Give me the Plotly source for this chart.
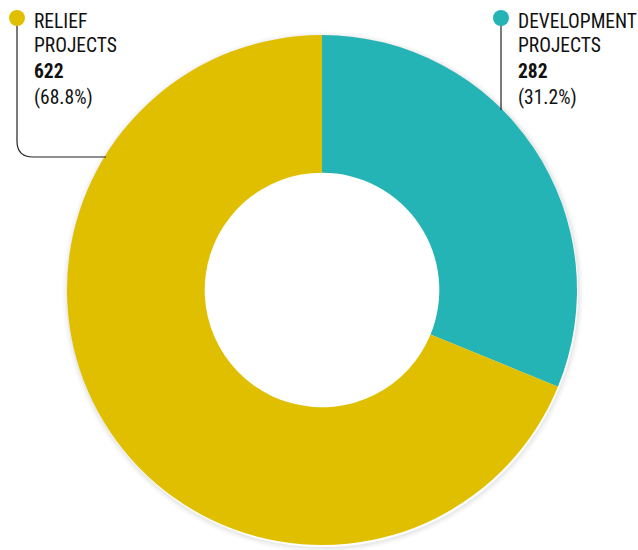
import plotly.graph_objects as go

labels = ["DEVELOPMENT PROJECTS", "RELIEF PROJECTS"]
label_lines = [["DEVELOPMENT", "PROJECTS"], ["RELIEF", "PROJECTS"]]
values = [282, 622]
percents = ["31.2%", "68.8%"]
colors = ["#24B4B6", "#E0BF00"]

W, H = 638, 550
cx, cy, R = 322, 290, 255


def px(x):
    return x / W


def py(y):
    return 1 - y / H


fig = go.Figure()
fig.add_trace(go.Pie(
    labels=labels, values=values, marker=dict(colors=colors, line=dict(width=0)),
    hole=0.46, sort=False, direction="clockwise", rotation=0,
    textinfo="none", hoverinfo="label+value+percent", showlegend=False,
    domain=dict(x=[px(cx - R), px(cx + R)], y=[py(cy + R), py(cy - R)]),
))

shapes = []
# soft shadow rings around the donut
for i, a in enumerate([0.08, 0.045, 0.02]):
    r = R + 1 + 1.8 * i
    shapes.append(dict(type="circle", xref="paper", yref="paper", layer="below",
                       x0=px(cx + 1 - r), x1=px(cx + 1 + r), y0=py(cy + 2 + r), y1=py(cy + 2 - r),
                       fillcolor="rgba(0,0,0,0)", line=dict(width=2, color=f"rgba(0,0,0,{a})")))

# connector lines
shapes.append(dict(type="path", xref="paper", yref="paper",
                   path=f"M {px(17)},{py(18)} L {px(17)},{py(141)} Q {px(17)},{py(157)} {px(33)},{py(157)} L {px(106)},{py(157)}",
                   line=dict(color="#222222", width=1.2)))
shapes.append(dict(type="line", xref="paper", yref="paper",
                   x0=px(501), x1=px(501), y0=py(18), y1=py(110),
                   line=dict(color="#222222", width=1.2)))
# markers
for (mx, col) in [(17, colors[1]), (501, colors[0])]:
    r = 8
    shapes.append(dict(type="circle", xref="paper", yref="paper",
                       x0=px(mx - r), x1=px(mx + r), y0=py(18 + r), y1=py(18 - r),
                       fillcolor=col, line=dict(width=0)))

fam = "Roboto Condensed, Liberation Sans Narrow, Arial Narrow, sans-serif"
annotations = []
rows = [21, 46, 72, 97]
for idx, x0 in [(1, 32), (0, 516)]:
    lines = label_lines[idx] + [f"<b>{values[idx]}</b>", f"({percents[idx]})"]
    for ln, yy in zip(lines, rows):
        annotations.append(dict(x=px(x0), y=py(yy), xref="paper", yref="paper",
                                xanchor="left", yanchor="middle", align="left",
                                showarrow=False, text=ln,
                                font=dict(family=fam, size=19.5, color="#111111")))

fig.update_layout(width=W, height=H, margin=dict(l=0, r=0, t=0, b=0),
                  paper_bgcolor="white", plot_bgcolor="white",
                  shapes=shapes, annotations=annotations)
fig.write_html("out.html", config={"displayModeBar": False})

with open("out.html", "r", encoding="utf-8") as f:
    html = f.read()
html = html.replace("<head>", "<head><style>html,body{margin:0;padding:0;}</style>", 1)
with open("out.html", "w", encoding="utf-8") as f:
    f.write(html)
